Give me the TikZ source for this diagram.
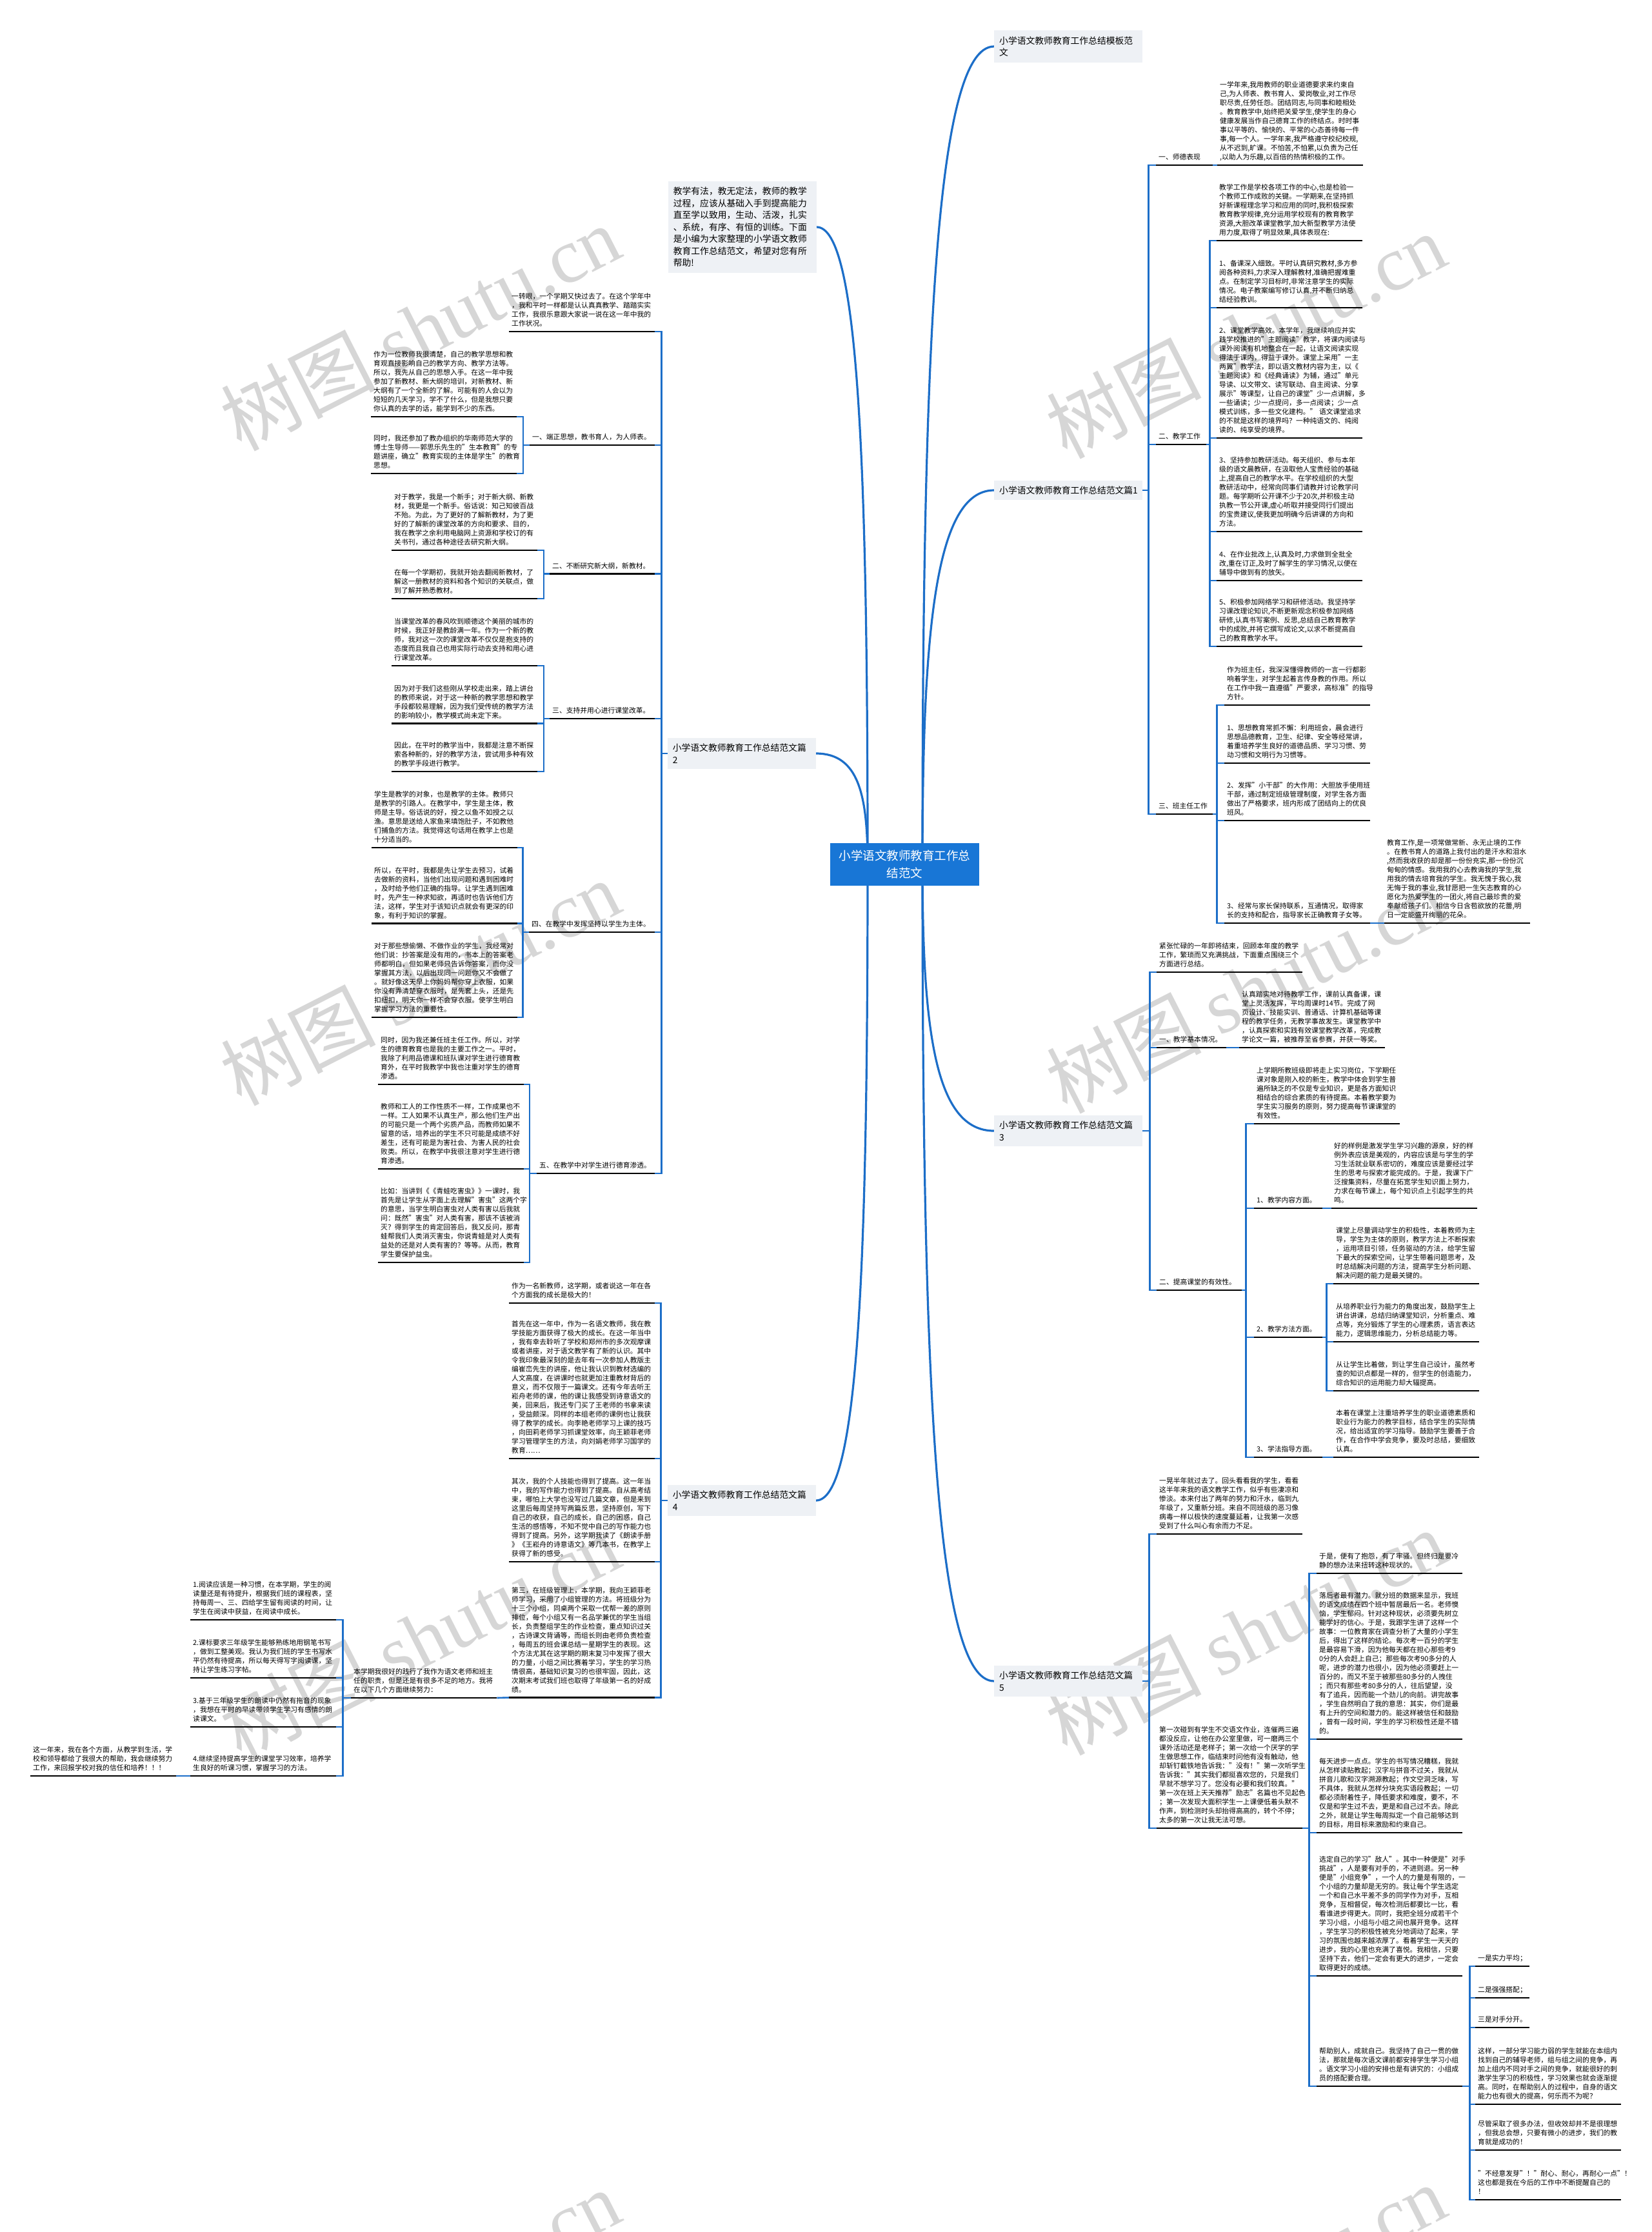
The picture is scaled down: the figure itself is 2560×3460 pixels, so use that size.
\documentclass[tikz,border=0pt]{standalone}
\usepackage{fontspec}
\setmainfont{Noto Sans CJK SC}
\newfontfamily\wmlat{Liberation Serif}
\XeTeXdashbreakstate=0
\usetikzlibrary{calc}
\definecolor{connblue}{RGB}{28,110,200}
\definecolor{rootblue}{RGB}{24,118,214}
\definecolor{boxfill}{RGB}{238,241,245}
\definecolor{wmgray}{RGB}{214,214,214}
\newcommand\dtf{\fontsize{10.8pt}{14pt}\selectfont}
\newcommand\btf{\fontsize{13.8pt}{18.5pt}\selectfont}
\newcommand\rtf{\fontsize{18.5pt}{27pt}\selectfont}
\newcommand\UL[1]{\draw[ul] (#1.south west) -- (#1.south east);}
\newcommand\RC[3]{\draw[conn] (#1.south east) -- ++(#2,0) |- (#3.south west);}
\newcommand\LC[3]{\draw[conn] (#1.south west) -- ++(-#2,0) |- (#3.south east);}
\pgfdeclarelayer{bg}\pgfdeclarelayer{edges}
\pgfsetlayers{bg,edges,main}
\tikzset{
  conn/.style={draw=connblue, line width=2.6pt},
  curv/.style={draw=connblue, line width=3.2pt},
  txt/.style={anchor=south west, inner xsep=4pt, inner ysep=3.8pt, align=left, font=\dtf, execute at end node={\strut}},
  para/.style={txt, text width=218pt},
  lab/.style={txt, text width=#1},
  ul/.style={draw=black, line width=2.2pt},
  bnode/.style={fill=boxfill, inner xsep=8pt, inner ysep=9pt, align=left, font=\btf, text width=214pt},
  wmark/.style={rotate=27, text=wmgray, font=\fontsize{120pt}{120pt}\selectfont},
}
\begin{document}
\begin{tikzpicture}[x=1pt,y=-1pt]
\useasboundingbox (0,0) rectangle (2560,3460);
\begin{pgfonlayer}{bg}
\fill[white] (0,0) rectangle (2560,3460);
\begin{scope}
\clip (0,0) rectangle (2560,3460);
\foreach \wx/\wy in {651/508, 1931/520, 651/1523, 1931/1535, 651/2538, 1931/2530, 651/3553, 1931/3545}
  \node[wmark] at (\wx,\wy) {树图 {\wmlat shutu.cn}};
\end{scope}
\end{pgfonlayer}

% root
\node[fill=rootblue, text=white, font=\rtf, align=center, minimum width=231pt, minimum height=66pt, inner sep=0pt] (root) at (1402.5,1340) {小学语文教师教育工作总\\结范文};
\coordinate (rR) at (1430,1340);
\coordinate (rL) at (1345,1340);

% branch boxes
\node[bnode, anchor=west] (B0) at (1541,72) {小学语文教师教育工作总结模板范\\文};
\node[bnode, anchor=west] (B1) at (1541,760) {小学语文教师教育工作总结范文篇1};
\node[bnode, anchor=east] (B2) at (1265,1168) {小学语文教师教育工作总结范文篇\\2};
\node[bnode, anchor=west] (B3) at (1541,1753) {小学语文教师教育工作总结范文篇\\3};
\node[bnode, anchor=east] (B4) at (1265,2326) {小学语文教师教育工作总结范文篇\\4};
\node[bnode, anchor=west] (B5) at (1541,2606) {小学语文教师教育工作总结范文篇\\5};
\node[bnode, anchor=east] (intro) at (1266,352) {教学有法，教无定法，教师的教学\\过程，应该从基础入手到提高能力\\直至学以致用，生动、活泼，扎实\\、系统，有序、有恒的训练。下面\\是小编为大家整理的小学语文教师\\教育工作总结范文，希望对您有所\\帮助!};

% ===== B1 =====
\node[lab=80pt] (L1a) at (1792,256) {一、师德表现};
\node[para] (p1a) at (1887,256) {一学年来,我用教师的职业道德要求来约束自\\己,为人师表、教书育人、爱岗敬业,对工作尽\\职尽责,任劳任怨。团结同志,与同事和睦相处\\。教育教学中,始终把关爱学生,使学生的身心\\健康发展当作自己德育工作的终结点。时时事\\事以平等的、愉快的、平常的心态善待每一件\\事,每一个人。一学年来,我严格遵守校纪校规,\\从不迟到,旷课。不怕苦,不怕累,以负责为己任\\,以助人为乐趣,以百倍的热情积极的工作。};
\node[lab=70pt] (L1b) at (1792,689) {二、教学工作};
\node[para] (c1b1) at (1886,373) {教学工作是学校各项工作的中心,也是检验一\\个教师工作成败的关键。一学期来,在坚持抓\\好新课程理念学习和应用的同时,我积极探索\\教育教学规律,充分运用学校现有的教育教学\\资源,大胆改革课堂教学,加大新型教学方法使\\用力度,取得了明显效果,具体表现在:};
\node[para] (c1b2) at (1886,477) {1、备课深入细致。平时认真研究教材,多方参\\阅各种资料,力求深入理解教材,准确把握难重\\点。在制定学习目标时,非常注意学生的实际\\情况。电子教案编写修订认真,并不断归纳总\\结经验教训。};
\node[para] (c1b3) at (1886,679) {2、课堂教学高效。本学年，我继续响应并实\\践学校推进的"主题阅读"教学，将课内阅读与\\课外阅读有机地整合在一起，让语文阅读实现\\得法于课内，得益于课外。课堂上采用"一主\\两翼"教学法，即以语文教材内容为主，以《\\主题阅读》和《经典诵读》为辅，通过"单元\\导读、以文带文、读写联动、自主阅读、分享\\展示"等课型，让自己的课堂"少一点讲解，多\\一些诵读；少一点提问，多一点阅读；少一点\\模式训练，多一些文化建构。"~语文课堂追求\\的不就是这样的境界吗？一种纯语文的、纯阅\\读的、纯享受的境界。};
\node[para] (c1b4) at (1886,824) {3、坚持参加教研活动。每天组织、参与本年\\级的语文晨教研，在汲取他人宝贵经验的基础\\上,提高自己的教学水平。在学校组织的大型\\教研活动中，经常向同事们请教并讨论教学问\\题。每学期听公开课不少于20次,并积极主动\\执教一节公开课,虚心听取并接受同行们提出\\的宝贵建议,使我更加明确今后讲课的方向和\\方法。};
\node[para] (c1b5) at (1886,900) {4、在作业批改上,认真及时,力求做到全批全\\改,重在订正,及时了解学生的学习情况,以便在\\辅导中做到有的放矢。};
\node[para] (c1b6) at (1886,1002) {5、积极参加网络学习和研修活动。我坚持学\\习课改理论知识,不断更新观念积极参加网络\\研修,认真书写案例、反思,总结自己教育教学\\中的成败,并将它撰写成论文,以求不断提高自\\己的教育教学水平。};
\node[lab=80pt] (L1c) at (1792,1262) {三、班主任工作};
\node[para] (c1c1) at (1898,1093) {作为班主任，我深深懂得教师的一言一行都影\\响着学生，对学生起着言传身教的作用。所以\\在工作中我一直遵循"严要求，高标准"的指导\\方针。};
\node[para] (c1c2) at (1898,1183) {1、思想教育常抓不懈：利用班会，晨会进行\\思想品德教育，卫生、纪律、安全等经常讲，\\着重培养学生良好的道德品质、学习习惯、劳\\动习惯和文明行为习惯等。};
\node[para] (c1c3) at (1898,1272) {2、发挥"小干部"的大作用：大胆放手使用班\\干部，通过制定班级管理制度，对学生各方面\\做出了严格要求，班内形成了团结向上的优良\\班风。};
\node[para] (c1c4) at (1898,1431) {3、经常与家长保持联系，互通情况，取得家\\长的支持和配合，指导家长正确教育子女等。};
\node[para] (c1c4a) at (2146,1431) {教育工作,是一项常做常新、永无止境的工作\\。在教书育人的道路上我付出的是汗水和泪水\\,然而我收获的却是那一份份充实,那一份份沉\\甸甸的情感。我用我的心去教诲我的学生,我\\用我的情去培育我的学生。我无愧于我心,我\\无悔于我的事业,我甘愿把一生矢志教育的心\\愿化为热爱学生的一团火,将自己最珍贵的爱\\奉献给孩子们。相信今日含苞欲放的花蕾,明\\日一定能盛开绚丽的花朵。};

% ===== B3 =====
\node[para] (p3i) at (1793,1507) {紧张忙碌的一年即将结束，回顾本年度的教学\\工作，繁琐而又充满挑战，下面重点围绕三个\\方面进行总结。};
\node[lab=100pt] (L3a) at (1793,1624) {一、教学基本情况。};
\node[para] (p3a) at (1921,1624) {认真踏实地对待教学工作，课前认真备课，课\\堂上灵活发挥，平均周课时14节。完成了网\\页设计、技能实训、普通话、计算机基础等课\\程的教学任务，无教学事故发生。课堂教学中\\，认真探索和实践有效课堂教学改革，完成教\\学论文一篇，被推荐至省参赛，并获一等奖。};
\node[lab=124pt] (L3b) at (1793,2000) {二、提高课堂的有效性。};
\node[para] (p3b1) at (1944,1742) {上学期所教班级即将走上实习岗位，下学期任\\课对象是刚入校的新生，教学中体会到学生普\\遍所缺乏的不仅是专业知识，更是各方面知识\\相结合的综合素质的有待提高。本着教学要为\\学生实习服务的原则，努力提高每节课课堂的\\有效性。};
\node[lab=98pt] (L3b2) at (1944,1873) {1、教学内容方面。};
\node[para] (p3b2) at (2064,1873) {好的样例是激发学生学习兴趣的源泉，好的样\\例外表应该是美观的，内容应该是与学生的学\\习生活就业联系密切的，难度应该是要经过学\\生的思考与探索才能完成的。于是，我课下广\\泛搜集资料，尽量在拓宽学生知识面上努力，\\力求在每节课上，每个知识点上引起学生的共\\鸣。};
\node[lab=98pt] (L3b3) at (1944,2073) {2、教学方法方面。};
\node[para] (p3b3a) at (2067,1990) {课堂上尽量调动学生的积极性，本着教师为主\\导，学生为主体的原则，教学方法上不断探索\\，运用项目引领，任务驱动的方法，给学生留\\下最大的探索空间，让学生带着问题思考，及\\时总结解决问题的方法，提高学生分析问题、\\解决问题的能力是最关键的。};
\node[para] (p3b3b) at (2067,2080) {从培养职业行为能力的角度出发，鼓励学生上\\讲台讲课，总结归纳课堂知识，分析重点、难\\点等，充分锻炼了学生的心理素质，语言表达\\能力，逻辑思维能力，分析总结能力等。};
\node[para] (p3b3c) at (2067,2156) {从让学生比着做，到让学生自己设计，虽然考\\查的知识点都是一样的，但学生的创造能力，\\综合知识的运用能力却大辐提高。};
\node[lab=98pt] (L3b4) at (1944,2259) {3、学法指导方面。};
\node[para] (p3b4) at (2067,2259) {本着在课堂上注重培养学生的职业道德素质和\\职业行为能力的教学目标，结合学生的实际情\\况，给出适宜的学习指导。鼓励学生要善于合\\作，在合作中学会竞争，要及时总结，要细致\\认真。};

% ===== B5 =====
\node[para] (p5a) at (1793,2378) {一晃半年就过去了。回头看看我的学生，看看\\这半年来我的语文教学工作，似乎有些凄凉和\\惨淡。本来付出了两年的努力和汗水，临到九\\年级了，又重新分班。来自不同班级的恶习像\\病毒一样以极快的速度蔓延着，让我第一次感\\受到了什么叫心有余而力不足。};
\node[para] (p5b) at (1793,2834) {第一次碰到有学生不交语文作业，连催两三遍\\都没反应，让他在办公室里做，可一磨两三个\\课外活动还是老样子；第一次给一个厌学的学\\生做思想工作，临结束时问他有没有触动，他\\却斩钉截铁地告诉我："没有！"第一次听学生\\告诉我："其实我们都挺喜欢您的，只是我们\\早就不想学习了。您没有必要和我们较真。"\\第一次在班上天天推荐"励志"名篇也不见起色\\；第一次发现大面积学生一上课便低着头默不\\作声，到检测时头却抬得高高的，转个不停；\\太多的第一次让我无法可想。};
\node[para] (p5b1) at (2041,2439) {于是，便有了抱怨，有了牢骚。但终归是要冷\\静的想办法来扭转这种现状的。};
\node[para] (p5b2) at (2041,2696) {落后者最有潜力。就分班的数据来显示，我班\\的语文成绩在四个班中暂居最后一名。老师懊\\恼，学生郁闷。针对这种现状，必须要先树立\\能学好的信心。于是，我跟学生讲了这样一个\\故事：一位教育家在调查分析了大量的小学生\\后，得出了这样的结论。每次考一百分的学生\\是最容易下滑，因为他每天都在担心那些考9\\0分的人会赶上自己；那些每次考90多分的人\\呢，进步的潜力也很小，因为他必须要赶上一\\百分的，而又不至于被那些80多分的人拽住\\；而只有那些考80多分的人，往后望望，没\\有了追兵，因而能一个劲儿的向前。讲完故事\\，学生自然明白了我的意思：其实，你们是最\\有上升的空间和潜力的。能这样被信任和鼓励\\，曾有一段时间，学生的学习积极性还是不错\\的。};
\node[para] (p5b3) at (2041,2841) {每天进步一点点。学生的书写情况糟糕，我就\\从怎样读贴教起；汉字与拼音不过关，我就从\\拼音儿歌和汉字溯源教起；作文空洞乏味，写\\不具体，我就从怎样分块充实语段教起；一切\\都必须耐着性子，降低要求和难度，要不，不\\仅是和学生过不去，更是和自己过不去。除此\\之外，就是让学生每周拟定一个自己能够达到\\的目标，用目标来激励和约束自己。};
\node[para] (p5b4) at (2041,3063) {选定自己的学习"敌人"。其中一种便是"对手\\挑战"，人是要有对手的，不进则退。另一种\\便是"小组竞争"，一个人的力量是有限的，一\\个小组的力量却是无穷的。我让每个学生选定\\一个和自己水平差不多的同学作为对手，互相\\竞争，互相督促，每次检测后都要比一比，看\\看谁进步得更大。同时，我把全班分成若干个\\学习小组，小组与小组之间也展开竞争。这样\\，学生学习的积极性被充分地调动了起来，学\\习的氛围也越来越浓厚了。看着学生一天天的\\进步，我的心里也充满了喜悦。我相信，只要\\坚持下去，他们一定会有更大的进步，一定会\\取得更好的成绩。};
\node[para] (p5b5) at (2041,3234) {帮助别人，成就自己。我坚持了自己一贯的做\\法，那就是每次语文课前都安排学生学习小组\\。语文学习小组的安排也是有讲究的：小组成\\员的搭配要合理。};
\node[lab=76pt] (q1) at (2287,3048) {一是实力平均；};
\node[lab=76pt] (q2) at (2287,3097) {二是强强搭配；};
\node[lab=76pt] (q3) at (2287,3143) {三是对手分开。};
\node[para] (q4) at (2287,3262) {这样，一部分学习能力弱的学生就能在本组内\\找到自己的辅导老师，组与组之间的竞争，再\\加上组内不同对手之间的竞争，就能很好的刺\\激学生学习的积极性，学习效果也就会逐渐提\\高。同时，在帮助别人的过程中，自身的语文\\能力也有很大的提高，何乐而不为呢？};
\node[para] (q5) at (2287,3333) {尽管采取了很多办法，但收效却并不是很理想\\，但我总会想，只要有微小的进步，我们的教\\育就是成功的！};
\node[para] (q6) at (2287,3410) {"不经意发芽"！"耐心、耐心，再耐心一点"！\\这也都是我在今后的工作中不断提醒自己的\\！};

% ===== B2 =====
\node[para] (p2i) at (789,514) {一转眼，一个学期又快过去了。在这个学年中\\，我和平时一样都是认认真真教学、踏踏实实\\工作，我很乐意跟大家说一说在这一年中我的\\工作状况。};
\node[lab=186pt] (L2a) at (821,690) {一、端正思想，教书育人，为人师表。};
\node[para] (p2a1) at (575,646) {作为一位教师我很清楚，自己的教学思想和教\\育观直接影响自己的教学方向、教学方法等。\\所以，我先从自己的思想入手。在这一年中我\\参加了新教材、新大纲的培训，对新教材、新\\大纲有了一个全新的了解。可能有的人会以为\\短短的几天学习，学不了什么，但是我想只要\\你认真的去学的话，能学到不少的东西。};
\node[para] (p2a2) at (575,734) {同时，我还参加了教办组织的华南师范大学的\\博士生导师——郭思乐先生的"生本教育"的专\\题讲座，确立"教育实现的主体是学生"的教育\\思想。};
\node[lab=155pt] (L2b) at (852,889.5) {二、不断研究新大纲，新教材。};
\node[para] (p2b1) at (607,853) {对于教学，我是一个新手；对于新大纲、新教\\材，我更是一个新手。俗话说：知己知彼百战\\不殆。为此，为了更好的了解新教材，为了更\\好的了解新的课堂改革的方向和要求、目的，\\我在教学之余利用电脑网上资源和学校订的有\\关书刊，通过各种途径去研究新大纲。};
\node[para] (p2b2) at (607,928) {在每一个学期初，我就开始去翻阅新教材，了\\解这一册教材的资料和各个知识的关联点，做\\到了解并熟悉教材。};
\node[lab=155pt] (L2c) at (852,1114) {三、支持并用心进行课堂改革。};
\node[para] (p2c1) at (607,1032) {当课堂改革的春风吹到顺德这个美丽的城市的\\时候，我正好是教龄满一年。作为一个新的教\\师，我对这一次的课堂改革不仅仅是抱支持的\\态度而且我自己也用实际行动去支持和用心进\\行课堂改革。};
\node[para] (p2c2) at (607,1121.5) {因为对于我们这些刚从学校走出来，踏上讲台\\的教师来说，对于这一种新的教学思想和教学\\手段都较易理解，因为我们受传统的教学方法\\的影响较小，教学模式尚未定下来。};
\node[para] (p2c3) at (607,1196) {因此，在平时的教学当中，我都是注意不断探\\索各种新的，好的教学方法，尝试用多种有效\\的教学手段进行教学。};
\node[lab=187pt] (L2d) at (820,1445) {四、在教学中发挥坚持以学生为主体。};
\node[para] (p2d1) at (576,1314) {学生是教学的对象，也是教学的主体。教师只\\是教学的引路人。在教学中，学生是主体，教\\师是主导。俗话说的好，授之以鱼不如授之以\\渔。意思是送给人家鱼来填饱肚子，不如教他\\们捕鱼的方法。我觉得这句话用在教学上也是\\十分适当的。};
\node[para] (p2d2) at (576,1431.5) {所以，在平时，我都是先让学生去预习，试着\\去做新的资料，当他们出现问题和遇到困难时\\，及时给予他们正确的指导。让学生遇到困难\\时，先产生一种求知欲，再适时也告诉他们方\\法，这样，学生对于该知识点就会有更深的印\\象，有利于知识的掌握。};
\node[para] (p2d3) at (576,1577) {对于那些想偷懒、不做作业的学生，我经常对\\他们说：抄答案是没有用的，书本上的答案老\\师都明白，但如果老师只告诉你答案，而你没\\掌握其方法，以后出现同一问题你又不会做了\\。就好像这天早上你妈妈帮你穿上衣服，如果\\你没有弄清楚穿衣服时，是先套上头，还是先\\扣纽扣，明天你一样不会穿衣服。使学生明白\\掌握学习方法的重要性。};
\node[lab=175pt] (L2e) at (832,1819) {五、在教学中对学生进行德育渗透。};
\node[para] (p2e1) at (586,1681) {同时，因为我还兼任班主任工作。所以，对学\\生的德育教育也是我的主要工作之一。平时，\\我除了利用品德课和班队课对学生进行德育教\\育外，在平时我教学中我也注重对学生的德育\\渗透。};
\node[para] (p2e2) at (586,1812) {教师和工人的工作性质不一样，工作成果也不\\一样。工人如果不认真生产，那么他们生产出\\的可能只是一个两个劣质产品，而教师如果不\\留意的话，培养出的学生不只可能是成绩不好\\差生，还有可能是为害社会、为害人民的社会\\败类。所以，在教学中我很注意对学生进行德\\育渗透。};
\node[para] (p2e3) at (586,1957) {比如：当讲到《《青蛙吃害虫》》一课时，我\\首先是让学生从字面上去理解"害虫"这两个字\\的意思，当学生明白害虫对人类有害以后我就\\问：既然"害虫"对人类有害，那该不该被消\\灭？得到学生的肯定回答后，我又反问，那青\\蛙帮我们人类消灭害虫，你说青蛙是对人类有\\益处的还是对人类有害的？等等。从而，教育\\学生要保护益虫。};

% ===== B4 =====
\node[para] (p4a) at (789,2020) {作为一名新教师，这学期，或者说这一年在各\\个方面我的成长是极大的！};
\node[para] (p4b) at (789,2261) {首先在这一年中，作为一名语文教师，我在教\\学技能方面获得了极大的成长。在这一年当中\\，我有幸去聆听了学校和郑州市的多次观摩课\\或者讲座，对于语文教学有了新的认识。其中\\令我印象最深刻的是去年有一次参加人教版主\\编崔峦先生的讲座，他让我认识到教材选编的\\人文高度，在讲课时也就更加注重教材背后的\\意义，而不仅限于一篇课文。还有今年去听王\\崧舟老师的课，他的课让我感受到诗意语文的\\美，回来后，我还专门买了王老师的书拿来读\\，受益颇深。同样的本组老师的课例也让我获\\得了教学的成长。向李艳老师学习上课的技巧\\，向田莉老师学习抓课堂效率，向王颖菲老师\\学习管理学生的方法，向刘娟老师学习国学的\\教育……};
\node[para] (p4c) at (789,2421) {其次，我的个人技能也得到了提高。这一年当\\中，我的写作能力也得到了提高。自从高考结\\束，哪怕上大学也没写过几篇文章，但是来到\\这里后每周坚持写两篇反思，坚持原创，写下\\自己的收获，自己的成长，自己的困惑，自己\\生活的感悟等，不知不觉中自己的写作能力也\\得到了提高。另外，这学期我读了《朗读手册\\》《王崧舟的诗意语文》等几本书，在教学上\\获得了新的感受。};
\node[para] (p4d) at (789,2631.5) {第三，在班级管理上，本学期，我向王颖菲老\\师学习，采用了小组管理的方法。将班级分为\\十三个小组，同桌两个采取一优帮一差的原则\\排位，每个小组又有一名品学兼优的学生当组\\长，负责整组学生的作业检查，重点知识过关\\，古诗课文背诵等，而组长则由老师负责检查\\，每周五的班会课总结一星期学生的表现。这\\个方法尤其在这学期的期末复习中发挥了很大\\的力量，小组之间比赛着学习，学生的学习热\\情很高，基础知识复习的也很牢固，因此，这\\次期末考试我们班也取得了年级第一名的好成\\绩。};
\node[para] (p4d1) at (544,2632) {本学期我很好的践行了我作为语文老师和班主\\任的职责，但是还是有很多不足的地方。我将\\在以下几个方面继续努力：};
\node[para] (p4d1a) at (295,2511) {1.阅读应该是一种习惯，在本学期，学生的阅\\读量还是有待提升，根据我们班的课程表，坚\\持每周一、三、四给学生留有阅读的时间，让\\学生在阅读中获益，在阅读中成长。};
\node[para] (p4d1b) at (295,2601) {2.课标要求三年级学生能够熟练地用钢笔书写\\，做到工整美观。我认为我们班的学生书写水\\平仍然有待提高，所以每天得写字阅读课，坚\\持让学生练习字帖。};
\node[para] (p4d1c) at (295,2677) {3.基于三年级学生的朗读中仍然有拖音的现象\\，我想在平时的早读带领学生学习有感情的朗\\读课文。};
\node[para] (p4d1d) at (295,2753) {4.继续坚持提高学生的课堂学习效率，培养学\\生良好的听课习惯，掌握学习的方法。};
\node[para] (p4d1d1) at (47,2753) {这一年来，我在各个方面，从教学到生活，学\\校和领导都给了我很大的帮助，我会继续努力\\工作，来回报学校对我的信任和培养！！！};

% underlines
\foreach \n in {L1a,p1a,L1b,c1b1,c1b2,c1b3,c1b4,c1b5,c1b6,L1c,c1c1,c1c2,c1c3,c1c4,c1c4a,
  p3i,L3a,p3a,L3b,p3b1,L3b2,p3b2,L3b3,p3b3a,p3b3b,p3b3c,L3b4,p3b4,
  p5a,p5b,p5b1,p5b2,p5b3,p5b4,p5b5,q1,q2,q3,q4,q5,q6,
  p2i,L2a,p2a1,p2a2,L2b,p2b1,p2b2,L2c,p2c1,p2c2,p2c3,L2d,p2d1,p2d2,p2d3,L2e,p2e1,p2e2,p2e3,
  p4a,p4b,p4c,p4d,p4d1,p4d1a,p4d1b,p4d1c,p4d1d,p4d1d1}
  {\UL{\n}}

\begin{pgfonlayer}{edges}
% root curves
\draw[curv] (rR) .. controls (1430,541) and (1450,72) .. (B0.west);
\draw[curv] (rR) .. controls (1430,975) and (1450,760) .. (B1.west);
\draw[curv] (rR) .. controls (1430,1600) and (1450,1753) .. (B3.west);
\draw[curv] (rR) .. controls (1430,2138) and (1450,2606) .. (B5.west);
\draw[curv] (rL) .. controls (1345,718) and (1331,352) .. (intro.east);
\draw[curv] (rL) .. controls (1345,1232) and (1331,1168) .. (B2.east);
\draw[curv] (rL) .. controls (1345,1961) and (1331,2326) .. (B4.east);
% B1
\foreach \c in {L1a,L1b,L1c} \draw[conn] (B1.east) -- ++(9,0) |- (\c.south west);
\draw[conn] (L1a.south east) -- (p1a.south west);
\foreach \c in {c1b1,c1b2,c1b3,c1b4,c1b5,c1b6} \RC{L1b}{5}{\c}
\foreach \c in {c1c1,c1c2,c1c3,c1c4} \RC{L1c}{6}{\c}
\draw[conn] (c1c4.south east) -- (c1c4a.south west);
% B3
\foreach \c in {p3i,L3a,L3b} \draw[conn] (B3.east) -- ++(11,0) |- (\c.south west);
\draw[conn] (L3a.south east) -- (p3a.south west);
\foreach \c in {p3b1,L3b2,L3b3,L3b4} \RC{L3b}{6}{\c}
\draw[conn] (L3b2.south east) -- (p3b2.south west);
\foreach \c in {p3b3a,p3b3b,p3b3c} \RC{L3b3}{6}{\c}
\draw[conn] (L3b4.south east) -- (p3b4.south west);
% B5
\foreach \c in {p5a,p5b} \draw[conn] (B5.east) -- ++(10,0) |- (\c.south west);
\foreach \c in {p5b1,p5b2,p5b3,p5b4,p5b5} \RC{p5b}{10}{\c}
\foreach \c in {q1,q2,q3,q4,q5,q6} \RC{p5b5}{11}{\c}
% B2
\foreach \c in {p2i,L2a,L2b,L2c,L2d,L2e} \draw[conn] (B2.west) -- ++(-9,0) |- (\c.south east);
\foreach \c in {p2a1,p2a2} \LC{L2a}{10}{\c}
\foreach \c in {p2b1,p2b2} \LC{L2b}{9}{\c}
\foreach \c in {p2c1,p2c2,p2c3} \LC{L2c}{9}{\c}
\foreach \c in {p2d1,p2d2,p2d3} \LC{L2d}{9.4}{\c}
\foreach \c in {p2e1,p2e2,p2e3} \LC{L2e}{11}{\c}
% B4
\foreach \c in {p4a,p4b,p4c,p4d} \draw[conn] (B4.west) -- ++(-10,0) |- (\c.south east);
\draw[conn] (p4d.south west) -- (p4d1.south east);
\foreach \c in {p4d1a,p4d1b,p4d1c,p4d1d} \LC{p4d1}{12.3}{\c}
\draw[conn] (p4d1d.south west) -- (p4d1d1.south east);
\end{pgfonlayer}
\end{tikzpicture}
\end{document}
